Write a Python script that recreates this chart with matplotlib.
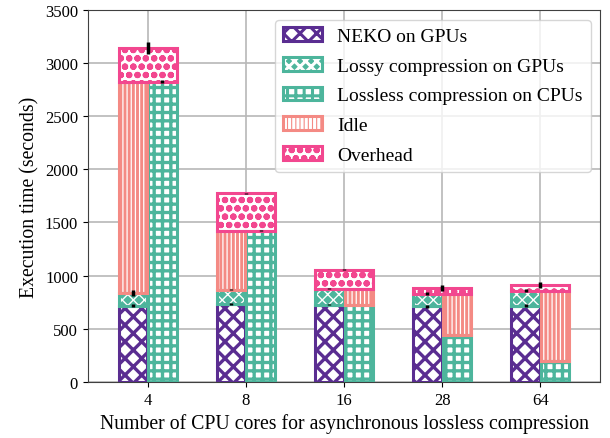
import numpy as np
import matplotlib.pyplot as plt

plt.rcParams['font.family'] = ['Liberation Serif', 'DejaVu Serif']

cores = ['4', '8', '16', '28', '64']
neko = [718, 733, 724, 712, 718]
lossy = [116, 135, 151, 116, 141]
lossless = [2825, 1423, 724, 442, 195]
idle = [1991, 555, 151, 386, 664]
overhead = [314, 352, 180, 59, 54]

neko_err = [18, 6, 4, 14, 10]
lossy_err = [28, 5, 4, 14, 14]
lossless_err = [14, 5, 3, 2, 3]
overhead_err = [55, 6, 6, 28, 28]

purple = '#5a2d91'
teal = '#4db59c'
salmon = '#f48a84'
pink = '#f2478f'

x = np.arange(len(cores))
w = 0.29
xl = x - 0.15
xr = x + 0.15


def hatched_bar(ax, xs, h, bottom, width, face, hatch, white_hatch, hlw):
    # white hatch on coloured face needs two layers: fill+hatch, then outline
    plt.rcParams['hatch.linewidth'] = hlw
    if white_hatch:
        b1 = ax.bar(xs, h, width, bottom=bottom, color=face, edgecolor='white',
                    hatch=hatch, linewidth=0, zorder=3)
    else:
        b1 = ax.bar(xs, h, width, bottom=bottom, color='white', edgecolor=face,
                    hatch=hatch, linewidth=0, zorder=3)
    b2 = ax.bar(xs, h, width, bottom=bottom, fill=False, edgecolor=face,
                linewidth=2.2, zorder=4)
    return (b1[0], b2[0])


fig, ax = plt.subplots(figsize=(6.1, 4.39), dpi=100)
fig.subplots_adjust(left=0.144, right=0.984, bottom=0.128, top=0.975)

neko = np.array(neko)
lossy = np.array(lossy)
lossless = np.array(lossless)
idle = np.array(idle)
overhead = np.array(overhead)

left_top = neko + lossy
idle_left = left_top < lossless
idle_bottom = np.where(idle_left, left_top, lossless)
idle_x = np.where(idle_left, xl, xr)
ov_bottom = idle_bottom + idle

h_neko = hatched_bar(ax, xl, neko, 0, w, purple, 'xx', False, 2.4)
h_lossy = hatched_bar(ax, xl, lossy, neko, w, teal, 'xxx', True, 1.0)
h_lossless = hatched_bar(ax, xr, lossless, 0, w, teal, '++', False, 2.4)
h_idle = hatched_bar(ax, idle_x, idle, idle_bottom, w, salmon, '||||', True, 0.9)
h_over = hatched_bar(ax, x, overhead, ov_bottom, 2 * 0.15 + w, pink, 'oo', False, 2.2)

ekw = dict(fmt='none', ecolor='black', elinewidth=2.5, capsize=0, zorder=6)
ax.errorbar(xl, neko, yerr=neko_err, **ekw)
ax.errorbar(xl, left_top, yerr=lossy_err, **ekw)
ax.errorbar(xr, lossless, yerr=lossless_err, **ekw)
ax.errorbar(x, ov_bottom + overhead, yerr=overhead_err, **ekw)

ax.set_xticks(x)
ax.set_xticklabels(cores)
ax.set_xlim(-0.61, 4.61)
ax.set_ylim(0, 3500)
ax.set_yticks(np.arange(0, 3501, 500))
ax.tick_params(labelsize=12)
ax.grid(True, color='#b8b8b8', linewidth=1.2, zorder=0)
ax.set_axisbelow(True)
for s in ax.spines.values():
    s.set_color('#404040')

ax.set_xlabel('Number of CPU cores for asynchronous lossless compression', fontsize=14.2)
ax.set_ylabel('Execution time (seconds)', fontsize=14.2)

ax.legend([h_neko, h_lossy, h_lossless, h_idle, h_over],
          ['NEKO on GPUs', 'Lossy compression on GPUs', 'Lossless compression on CPUs',
           'Idle', 'Overhead'],
          loc='upper right', fontsize=14, handlelength=2.0, borderpad=0.4,
          labelspacing=0.62, borderaxespad=0.5)

fig.savefig('out.png', dpi=100)
